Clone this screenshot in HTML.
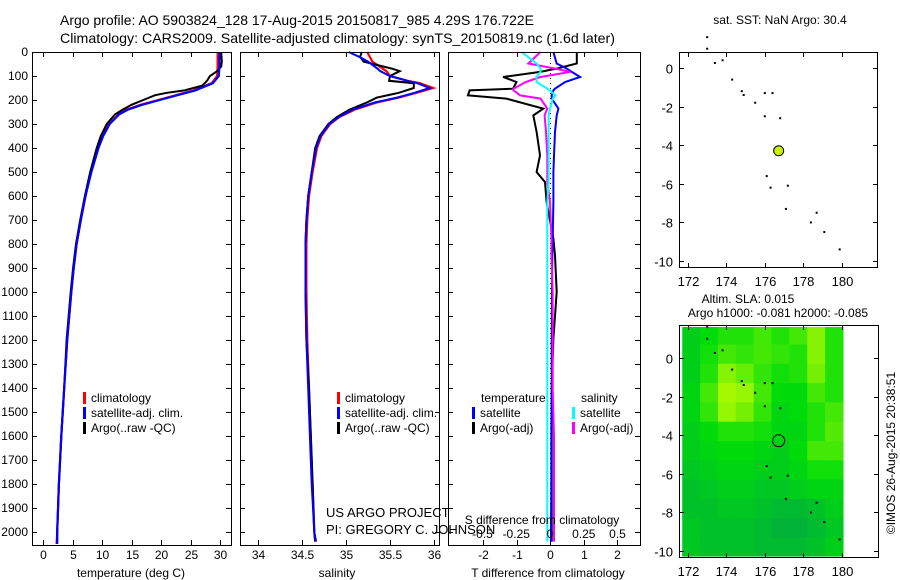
<!DOCTYPE html>
<html><head><meta charset="utf-8"><style>
body{margin:0;background:#fff;}
svg{display:block;font-family:"Liberation Sans",sans-serif;}
text{fill:#000;}
</style></head><body>
<svg id="chart" width="900" height="580" viewBox="0 0 900 580" xmlns="http://www.w3.org/2000/svg">
<text x="60" y="25" font-size="14" textLength="474" lengthAdjust="spacingAndGlyphs">Argo profile: AO 5903824_128 17-Aug-2015 20150817_985 4.29S 176.722E</text>
<text x="60" y="43" font-size="14" textLength="555" lengthAdjust="spacingAndGlyphs">Climatology: CARS2009. Satellite-adjusted climatology: synTS_20150819.nc (1.6d later)</text>
<g id="g"></g>
</svg>
<script>
// ---- data ----
var depthTArgo=[0,40,60,80,100,120,140,160,170,180,200,220,240,260,280,300,350,400,500,600,700,800,900,1000,1200,1400,1600,1800,2000,2040];
var tempArgo=[30.2,30.3,30.2,29.5,28.3,27.8,27,24,21,19,17,15,13.5,12.2,11.5,10.8,9.8,9.1,8,7.1,6.3,5.6,5.1,4.7,4.0,3.6,3.1,2.7,2.4,2.4];
var depthTClim=[0,60,100,130,160,180,200,220,240,260,300,350,400,500,600,700,800,900,1000,1200,1400,1600,1800,2000,2050];
var tempClim=[29.6,29.6,29.5,28.6,25.5,22.5,19.5,16.5,14.2,12.8,11.2,10.1,9.3,8.1,7.2,6.4,5.7,5.2,4.8,4.1,3.6,3.1,2.7,2.4,2.3];
var tempSat=[29.9,29.9,29.8,28.8,25.8,22.8,19.8,16.8,14.4,12.9,11.3,10.2,9.4,8.2,7.2,6.4,5.7,5.2,4.8,4.1,3.6,3.1,2.7,2.4,2.4];
var depthS=[0,20,40,70,80,100,120,130,150,170,190,210,240,270,300,350,400,500,600,700,800,1000,1200,1400,1600,1800,2000,2040];
var salArgo=[35.18,35.16,35.2,35.53,35.61,35.5,35.49,35.77,35.77,35.6,35.35,35.24,35.04,34.9,34.8,34.7,34.65,34.61,34.57,34.55,34.54,34.54,34.55,34.58,34.6,34.62,34.64,34.65];
var salClim=[35.24,35.27,35.3,35.42,35.46,35.5,35.7,35.84,35.99,35.8,35.6,35.35,35.1,34.93,34.82,34.72,34.67,34.62,34.58,34.56,34.55,34.55,34.56,34.58,34.6,34.62,34.64,34.65];
var salSat=[35.03,35.15,35.25,35.36,35.39,35.5,35.7,35.81,35.95,35.78,35.58,35.33,35.08,34.92,34.81,34.71,34.66,34.61,34.57,34.55,34.54,34.54,34.55,34.57,34.59,34.61,34.64,34.66];
var depthD=[0,48,69,83,104,125,153,160,181,194,236,264,333,431,500,542,625,778,847,1000,1194,1400,1600,1800,2000,2040];
var tDiffArgo=[0.8,0.8,0.2,-0.3,-1.4,-1.0,-1.1,-2.4,-2.45,-1.3,-0.2,-0.5,-0.4,-0.3,-0.4,-0.15,-0.1,0.1,0.15,0.2,0.1,0.05,0.05,0.05,0.05,0.05];
var tDiffSat=[0.1,0.2,0.5,0.65,0.9,0.45,0.15,0.1,0.05,0.05,0.25,0.2,0.15,0.12,0.1,0.1,0.1,0.08,0.07,0.06,0.05,0.05,0.04,0.04,0.03,0.03];
var sDiffSat=[-0.21,-0.1,-0.07,-0.07,-0.1,-0.1,-0.02,0.0,0.04,0.02,0.0,-0.01,-0.01,-0.01,-0.01,-0.01,-0.02,-0.02,-0.02,-0.02,-0.02,-0.02,-0.02,-0.02,-0.02,-0.02];
var sDiffArgo=[-0.07,-0.16,0.04,0.15,-0.07,-0.18,-0.27,-0.27,-0.22,-0.07,-0.02,-0.04,-0.03,-0.02,-0.02,-0.02,0.0,0.01,0.01,0.02,0.02,0.02,0.03,0.03,0.03,0.03];
var depthTicks=[0,100,200,300,400,500,600,700,800,900,1000,1100,1200,1300,1400,1500,1600,1700,1800,1900,2000];
var tempTicks=[0,5,10,15,20,25,30];
var salTicks=[34,34.5,35,35.5,36];
var tdTicks=[-2,-1,0,1,2];
var sdTicks=[-0.5,-0.25,0,0.25,0.5];
var lonTicks=[172,174,176,178,180];
var latTicks=[0,-2,-4,-6,-8,-10];
var islandLon=[173.0,173.0,173.4,173.8,174.3,174.8,174.9,175.5,176.0,176.4,176.0,176.8,176.1,176.3,177.2,177.1,178.4,178.7,179.1,179.9];
var islandLat=[1.6,1.0,0.26,0.4,-0.6,-1.2,-1.4,-1.8,-1.3,-1.3,-2.5,-2.6,-5.6,-6.2,-6.1,-7.3,-8.0,-7.5,-8.5,-9.4];
var argoLon=[176.722], argoLat=[-4.29];
var slaGrid=[
[0.3,0.4,0.5,0.5,0.6,0.5,0.6,0.8,0.5],
[0.3,0.45,0.6,0.55,0.6,0.55,0.5,0.8,0.5],
[0.3,0.5,0.8,0.7,0.55,0.45,0.5,0.75,0.5],
[0.35,0.6,0.9,0.85,0.6,0.4,0.4,0.6,0.5],
[0.35,0.55,0.85,0.75,0.55,0.35,0.4,0.5,0.6],
[0.3,0.4,0.5,0.5,0.45,0.35,0.35,0.5,0.65],
[0.3,0.35,0.4,0.4,0.35,0.3,0.4,0.6,0.6],
[0.25,0.3,0.35,0.35,0.3,0.3,0.35,0.45,0.45],
[0.2,0.25,0.3,0.3,0.25,0.25,0.3,0.35,0.35],
[0.2,0.2,0.25,0.25,0.2,0.15,0.15,0.2,0.3],
[0.25,0.2,0.2,0.2,0.15,0.1,0.1,0.15,0.25],
[0.25,0.2,0.2,0.2,0.15,0.15,0.15,0.2,0.3]];
var slaLon0=171.7, slaLat0=1.7;

// ---- helpers ----
var NS="http://www.w3.org/2000/svg", G=document.getElementById('g');
function mk(t,a,p){var e=document.createElementNS(NS,t);for(var k in a)e.setAttribute(k,a[k]);(p||G).appendChild(e);return e;}
function txt(s,x,y,anchor,size){var e=mk('text',{x:x,y:y,'text-anchor':anchor||'middle','font-size':size||12});e.textContent=s;return e;}
function yD(d){return 52+d*0.24;}
function xT(v){return 43+v*5.9;}
function xS(v){return 258+(v-34)*88;}
function xTD(v){return 550+v*33.5;}
function xSD(v){return 550+v*135;}
function mapX(l){return 688+(l-172)*19.2;}
function mapY1(l){return 68-l*19.3;}
function mapY2(l){return 358-l*19.3;}
function line(xs,ds,fx,col,w,name){
  var p=[];for(var i=0;i<xs.length;i++)p.push(fx(xs[i]).toFixed(1)+','+yD(ds[i]).toFixed(1));
  var e=mk('polyline',{points:p.join(' '),fill:'none',stroke:col,'stroke-width':w});
  
  
}
function frame(x0,x1,y0,y1,name){
  var e=mk('rect',{x:x0,y:y0,width:x1-x0,height:y1-y0,fill:'none',stroke:'#000','stroke-width':1});
  
  
}
function depthTicksFor(x0,x1){depthTicks.forEach(function(d){var y=yD(d)+0.5;mk('line',{x1:x0,x2:x0+5,y1:y,y2:y,stroke:'#000'});mk('line',{x1:x1-5,x2:x1,y1:y,y2:y,stroke:'#000'});});}
function xTicks(ticks,fx,y0,y1,lab,ly){ticks.forEach(function(v){var x=Math.round(fx(v))+0.5;mk('line',{x1:x,x2:x,y1:y0,y2:y0+5,stroke:'#000'});mk('line',{x1:x,x2:x,y1:y1-5,y2:y1,stroke:'#000'});if(lab){var t=txt(String(v),x,ly);}});}
function legend(items,x,y){items.forEach(function(it,i){var yy=y+i*15;mk('rect',{x:x,y:yy-10,width:3,height:12,fill:it[0]});var t=txt(it[1],x+8,yy,'start',12);});}

// ---- panel 1: temperature ----
var B=545;
depthTicksFor(32,231);
xTicks(tempTicks,xT,B-5,52+5,true,559);
// adjust: ticks at bottom (inward) and top
depthTicks.forEach(function(d){var t=txt(String(d),28,yD(d)+4,'end',12);});
line(tempClim,depthTClim,xT,'#f00',2.2,'temp-climatology-line');
line(tempArgo,depthTArgo,xT,'#000',2,'temp-argo-line');
line(tempSat,depthTClim,xT,'#00f',2.2,'temp-satellite-line');
frame(32.5,231.5,52.5,545.5,'temperature-panel');
var t1=txt('temperature (deg C)',131,577);
legend([['#f00','climatology'],['#00f','satellite-adj. clim.'],['#000','Argo(..raw -QC)']],83,402);

// ---- panel 2: salinity ----
depthTicksFor(240,440);
xTicks(salTicks,xS,B-5,57,true,559);
line(salClim,depthS,xS,'#f00',2.2,'sal-climatology-line');
line(salArgo,depthS,xS,'#000',2,'sal-argo-line');
line(salSat,depthS,xS,'#00f',2,'sal-satellite-line');
frame(240.5,439.5,52.5,545.5,'salinity-panel');
var t2=txt('salinity',337,577);
legend([['#f00','climatology'],['#00f','satellite-adj. clim.'],['#000','Argo(..raw -QC)']],337,402);
var c1=txt('US ARGO PROJECT',326,517,'start',13);
var c2=txt('PI: GREGORY C. JOHNSON',326,534,'start',13);

// ---- panel 3: differences ----
depthTicksFor(448,640);
xTicks(tdTicks,xTD,B-5,57,true,559);
mk('line',{x1:550.5,x2:550.5,y1:53,y2:545,stroke:'#000','stroke-dasharray':'1,4'});
line(tDiffArgo,depthD,xTD,'#000',2,'tdiff-argo-line');
line(tDiffSat,depthD,xTD,'#00f',2,'tdiff-satellite-line');
line(sDiffArgo,depthD,xSD,'#f0f',2,'sdiff-argo-line');
line(sDiffSat,depthD,xSD,'#0ff',2,'sdiff-satellite-line');
frame(448.5,640.5,52.5,545.5,'difference-panel');
sdTicks.forEach(function(v){var t=txt(String(v).replace('0.','.').replace('-.','-0.').replace(/^\.(\d)$/,'0.$1'),xSD(v),538);t.textContent=String(v);});
var t3=txt('S difference from climatology',542,524,'middle',12);
var t4=txt('T difference from climatology',548,577);
var th=txt('temperature',481,402,'start',12);
var sh=txt('salinity',581,402,'start',12);
legend([['#00f','satellite'],['#000','Argo(-adj)']],472,417);
legend([['#0ff','satellite'],['#f0f','Argo(-adj)']],572,417);

// ---- top map ----
var mt=txt('sat. SST: NaN Argo: 30.4',780,24);
frame(679.5,877.5,52.5,267.5,'sst-map');
lonTicks.forEach(function(l){var x=Math.round(mapX(l))+0.5;mk('line',{x1:x,x2:x,y1:263,y2:267,stroke:'#000'});mk('line',{x1:x,x2:x,y1:53,y2:57,stroke:'#000'});var t=txt(String(l),x,286,'middle',13);});
latTicks.forEach(function(l){var y=Math.round(mapY1(l))+0.5;mk('line',{x1:680,x2:684,y1:y,y2:y,stroke:'#000'});mk('line',{x1:873,x2:877,y1:y,y2:y,stroke:'#000'});var t=txt(String(l),673,y+5,'end',13);});
islandLon.forEach(function(l,i){var e=mk('rect',{x:mapX(l)-1,y:mapY1(islandLat[i])-1,width:2,height:2,fill:'#000'});});
var ap=mk('circle',{cx:mapX(argoLon[0]),cy:mapY1(argoLat[0]),r:5,fill:'#ccee00',stroke:'#000','stroke-width':1});



// ---- bottom map ----
var b1=txt('Altim. SLA: 0.015',748,303,'middle',12);
var b2=txt('Argo h1000: -0.081 h2000: -0.085',778,317,'middle',12);
function slaCol(v){var r,g,b;if(v<0.4){var f=v/0.4;r=0;g=Math.round(165+55*f);b=Math.round(70-60*f);}else{var f2=(v-0.4)/0.6;r=Math.round(200*f2);g=Math.round(220+35*f2);b=Math.round(10-10*f2);}return 'rgb('+r+','+g+','+b+')';}
slaGrid.forEach(function(row,i){row.forEach(function(v,j){
  var x0=Math.max(681,mapX(slaLon0+j*0.93)), x1=Math.min(844,mapX(slaLon0+(j+1)*0.93));
  var y0=Math.max(327,mapY2(slaLat0-i)), y1=Math.min(556,mapY2(slaLat0-i-1));
  var c=mk('rect',{x:x0,y:y0,width:x1-x0+0.6,height:y1-y0+0.6,fill:slaCol(v)});
  
  
});});
frame(679.5,878.5,325.5,557.5,'sla-map');
lonTicks.forEach(function(l){var x=Math.round(mapX(l))+0.5;mk('line',{x1:x,x2:x,y1:553,y2:557,stroke:'#000'});mk('line',{x1:x,x2:x,y1:326,y2:330,stroke:'#000'});var t=txt(String(l),x,576,'middle',13);});
latTicks.forEach(function(l){var y=Math.round(mapY2(l))+0.5;mk('line',{x1:680,x2:684,y1:y,y2:y,stroke:'#000'});mk('line',{x1:874,x2:878,y1:y,y2:y,stroke:'#000'});var t=txt(String(l),673,y+5,'end',13);});
islandLon.forEach(function(l,i){var e=mk('rect',{x:mapX(l)-1,y:mapY2(islandLat[i])-1,width:2,height:2,fill:'#000'});});
var ap2=mk('circle',{cx:mapX(argoLon[0]),cy:mapY2(argoLat[0]),r:6,fill:'none',stroke:'#000','stroke-width':1});


var cp=txt('©IMOS 26-Aug-2015 20:38:51',0,0,'middle',12);
cp.setAttribute('transform','translate(895,453) rotate(-90)');


</script>
</body></html>
